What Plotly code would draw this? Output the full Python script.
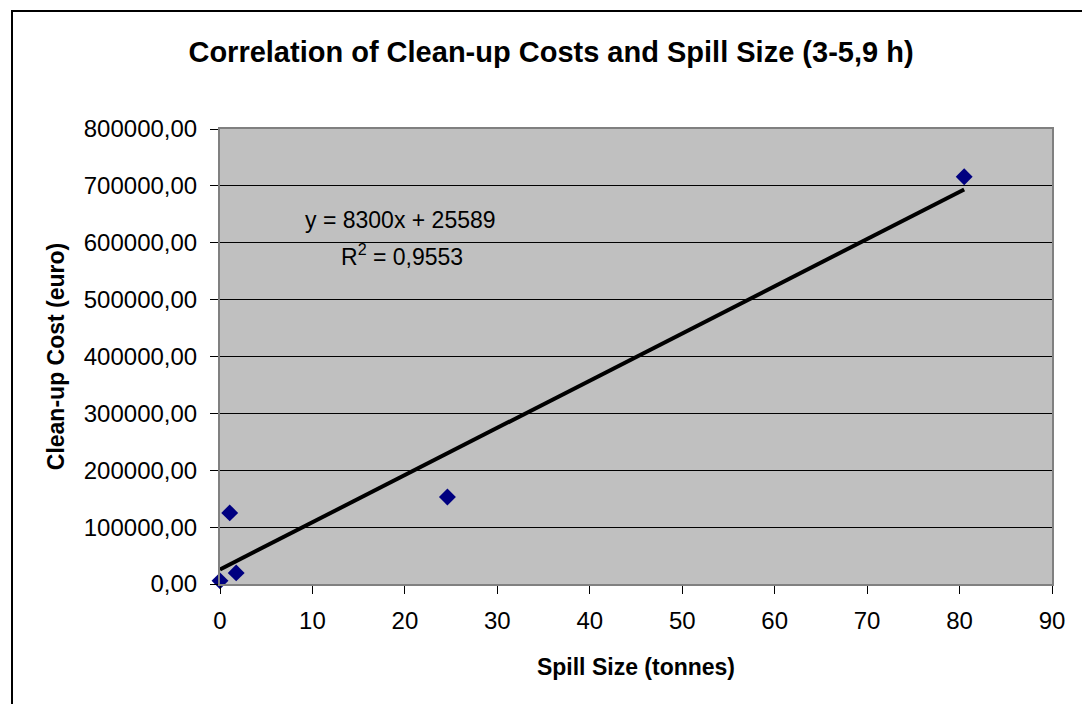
import plotly.graph_objects as go
import numpy as np

# Data
spill_size = [0.0, 1.05, 1.75, 24.6, 80.5]          # tonnes
cleanup_cost = [5500, 125000, 19500, 153000, 716000]  # euro

# Trendline as printed on the chart
slope = 8300
intercept = 25589
r2_text = "0,9553"

x_ticks = [0, 10, 20, 30, 40, 50, 60, 70, 80, 90]
y_ticks = [0, 100000, 200000, 300000, 400000, 500000, 600000, 700000, 800000]

FONT = "Liberation Sans, Arial, sans-serif"

L, R, T, B = 220, 30, 129, 120
W, H = 1082, 704
pw, ph = W - L - R, H - T - B

fig = go.Figure()

trend_x = np.array([min(spill_size), max(spill_size)])
trend_y = slope * trend_x + intercept
fig.add_trace(go.Scatter(x=trend_x, y=trend_y, mode="lines",
                         line=dict(color="black", width=4), hoverinfo="skip",
                         showlegend=False, cliponaxis=False))

fig.add_trace(go.Scatter(x=spill_size, y=cleanup_cost, mode="markers",
                         marker=dict(symbol="diamond", size=13, color="#000080"),
                         showlegend=False, cliponaxis=False))

fig.update_layout(
    width=W, height=H,
    margin=dict(l=L, r=R, t=T, b=B),
    paper_bgcolor="white",
    plot_bgcolor="#C0C0C0",
    separators=",.",
    font=dict(family=FONT, color="black", size=24),
    title=dict(text="<b>Correlation of Clean-up Costs and Spill Size (3-5,9 h)</b>",
               x=(551) / W, xanchor="center", y=1 - 52 / H, yanchor="middle",
               font=dict(size=29, family=FONT, color="black")),
    xaxis=dict(range=[0, 90], tickvals=x_ticks, showgrid=False, zeroline=False,
               showline=True, linecolor="#808080", linewidth=2, mirror=True,
               ticks="outside", ticklen=8, tickcolor="black", tickwidth=1,
               ticklabelstandoff=6,
               tickfont=dict(size=24, family=FONT),
               title=dict(text="<b>Spill Size (tonnes)</b>", standoff=26,
                          font=dict(size=23, family=FONT))),
    yaxis=dict(range=[0, 800000], tickvals=y_ticks, tickformat=".2f",
               showgrid=True, gridcolor="black", gridwidth=1, zeroline=False,
               showline=True, linecolor="#808080", linewidth=2, mirror=True,
               ticks="outside", ticklen=8, tickcolor="black", tickwidth=1,
               ticklabelstandoff=8,
               tickfont=dict(size=24, family=FONT),
               title=dict(text="<b>Clean-up Cost (euro)</b>", standoff=13,
                          font=dict(size=23, family=FONT))),
)

# equation annotations
fig.add_annotation(x=(400 - L) / pw, y=(H - B - 220) / ph, xref="paper", yref="paper",
                   text=f"y = {slope}x + {intercept}", showarrow=False,
                   xanchor="center", yanchor="middle", font=dict(size=23, family=FONT))
fig.add_annotation(x=(402 - L) / pw, y=(H - B - 255) / ph, xref="paper", yref="paper",
                   text=f"R<sup>2</sup> = {r2_text}", showarrow=False,
                   xanchor="center", yanchor="middle", font=dict(size=23, family=FONT))

# outer chart border (extends beyond the right/bottom of the page)
fig.add_shape(type="rect", xref="paper", yref="paper",
              x0=(12 - L) / pw, x1=(W + 10 - L) / pw,
              y0=(H - B - (H + 10)) / ph, y1=(H - B - 11) / ph,
              line=dict(color="black", width=2), fillcolor="rgba(0,0,0,0)", layer="below")

fig.write_html("out.html")
